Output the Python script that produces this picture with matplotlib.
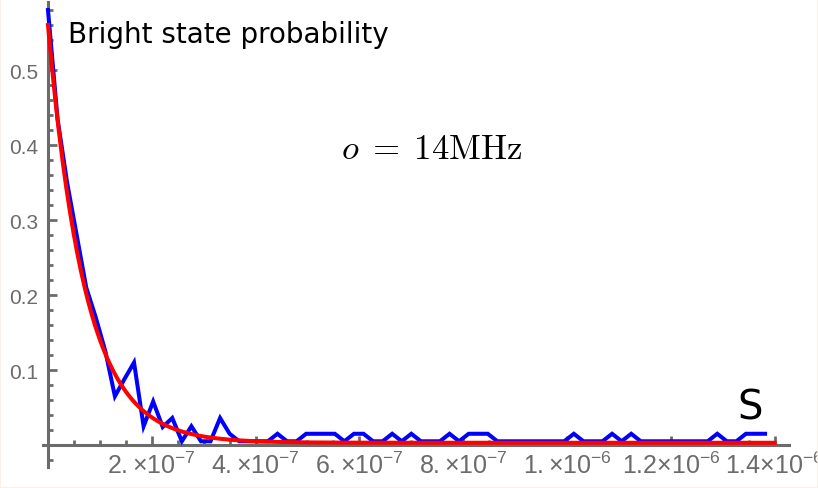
import numpy as np
import matplotlib
matplotlib.use("Agg")
from matplotlib import pyplot as plt
from matplotlib.ticker import FixedLocator, FixedFormatter, MultipleLocator

# measured bright state probability, one sample every 1.4 us / 76
time_step = 1.4e-6 / 76
bright = [0.58, 0.435, 0.35, 0.28, 0.21, 0.17, 0.125, 0.065, 0.088, 0.11,
          0.025, 0.058, 0.024, 0.036, 0.005, 0.025, 0.005, 0.005, 0.036, 0.015,
          0.005, 0.005, 0.005, 0.005, 0.015, 0.005, 0.005, 0.015, 0.015, 0.015,
          0.015, 0.005, 0.015, 0.015, 0.005, 0.005, 0.015, 0.005, 0.015, 0.005,
          0.005, 0.005, 0.015, 0.005, 0.015, 0.015, 0.015, 0.005, 0.005, 0.005,
          0.005, 0.005, 0.005, 0.005, 0.005, 0.015, 0.005, 0.005, 0.005, 0.015,
          0.005, 0.015, 0.005, 0.005, 0.005, 0.005, 0.005, 0.005, 0.005, 0.005,
          0.015, 0.005, 0.005, 0.015, 0.015, 0.015]

# exponential fit  A*exp(-o*t) + c
fit_amp = 0.557
fit_rate = 14e6
fit_offset = 0.003
fit_tmax = 1.4e-6

x_ticks = [2e-7, 4e-7, 6e-7, 8e-7, 1e-6, 1.2e-6, 1.4e-6]
x_labels = [r"$2.{\times}10^{-7}$", r"$4.{\times}10^{-7}$", r"$6.{\times}10^{-7}$",
            r"$8.{\times}10^{-7}$", r"$1.{\times}10^{-6}$", r"$1.2{\times}10^{-6}$",
            r"$1.4{\times}10^{-6}$"]
y_ticks = [0.1, 0.2, 0.3, 0.4, 0.5]
y_labels = ["0.1", "0.2", "0.3", "0.4", "0.5"]

gray = "#6b6b6b"
plt.rcParams["mathtext.fontset"] = "custom"
plt.rcParams["mathtext.rm"] = "Liberation Sans"
plt.rcParams["mathtext.it"] = "Liberation Sans:italic"

W, H = 818, 489
fig = plt.figure(figsize=(W / 100, H / 100), dpi=100)
ax = fig.add_axes([43 / W, 21 / H, 746 / W, 465 / H])

t = np.arange(len(bright)) * time_step
ax.plot(t, bright, color="#0000ff", lw=2.9, solid_joinstyle="miter", clip_on=False, zorder=3)
tf = np.linspace(0, fit_tmax, 400)
ax.plot(tf, fit_amp * np.exp(-fit_rate * tf) + fit_offset, color="#ff0000", lw=2.9,
        clip_on=False, zorder=4)

ax.set_xlim(-9.6e-9, 1.4277e-6)
ax.set_ylim(-0.0293, 0.5907)

for side in ["top", "right"]:
    ax.spines[side].set_visible(False)
for side in ["left", "bottom"]:
    ax.spines[side].set_position(("data", 0))
    ax.spines[side].set_color(gray)
    ax.spines[side].set_linewidth(2.2)

ax.xaxis.set_major_locator(FixedLocator(x_ticks))
ax.xaxis.set_major_formatter(FixedFormatter(x_labels))
ax.xaxis.set_minor_locator(MultipleLocator(5e-8))
ax.yaxis.set_major_locator(FixedLocator(y_ticks))
ax.yaxis.set_major_formatter(FixedFormatter(y_labels))
ax.yaxis.set_minor_locator(MultipleLocator(0.02))
ax.tick_params(which="both", direction="in", color=gray, width=2.0)
ax.tick_params(which="major", length=6.5, pad=7, labelcolor=gray)
ax.tick_params(axis="x", which="major", labelsize=18, pad=5)
ax.tick_params(axis="y", which="major", labelsize=15)
ax.tick_params(which="minor", length=3.8)
for lbl in ax.get_yticklabels():
    lbl.set_fontfamily("Liberation Sans")

fig.text(68 / W, 1 - 43.3 / H, "Bright state probability", fontsize=20,
         family="DejaVu Sans", va="baseline", ha="left")
fig.text(737 / W, 1 - 420 / H, "S", fontsize=29, family="DejaVu Sans",
         va="baseline", ha="left")
fig.text(341 / W, 1 - 159.3 / H, r"$o\;=\;14\mathrm{MHz}$", fontsize=25,
         math_fontfamily="cm", va="baseline", ha="left")

fig.patches.append(plt.Rectangle((0, 0), 1, 1, transform=fig.transFigure, fill=False,
                                 edgecolor="#fbeee4", lw=1.2))

fig.savefig("out.png", dpi=100)
